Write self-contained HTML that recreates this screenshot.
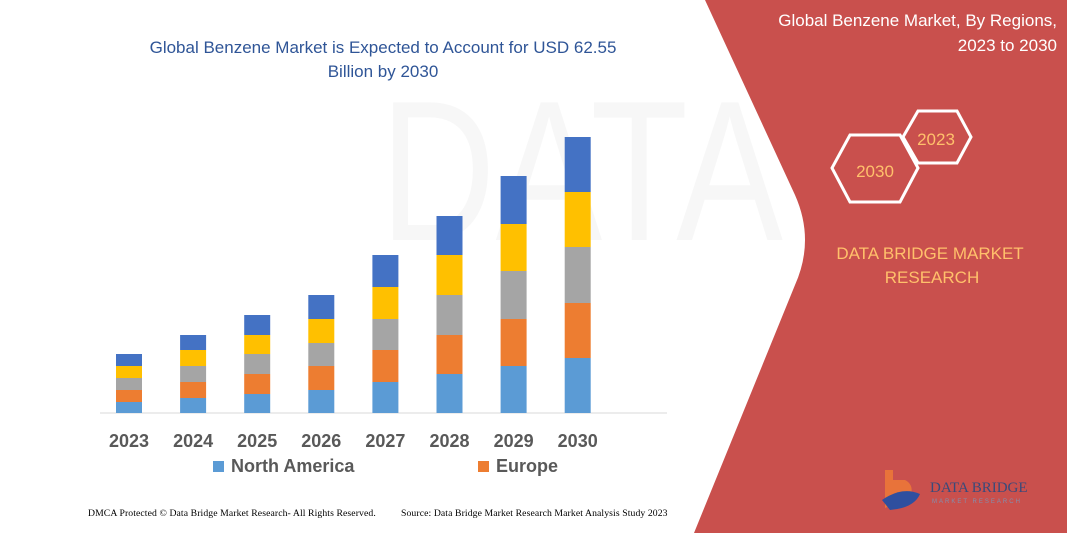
<!DOCTYPE html>
<html><head><style>
body{margin:0;width:1067px;height:533px;overflow:hidden;background:#fff;font-family:"Liberation Sans",sans-serif;position:relative}
.t{position:absolute;white-space:nowrap}
</style></head><body>
<svg width="1067" height="533" style="position:absolute;left:0;top:0">
<text x="380" y="240" font-size="200" fill="#f7f7f7" font-family="Liberation Sans" transform="scale(0.8,1) translate(95,0)">DATA BR</text>
<path d="M705,0 L795,195 Q815,240 795,285 L694,533 L1067,533 L1067,0 Z" fill="#C9504D"/>
<line x1="100" y1="413" x2="667" y2="413" stroke="#d9d9d9" stroke-width="1"/>
<g id="bars"></g>
<polygon points="850,135 900,135 918,168 900,202 850,202 832,168" fill="none" stroke="#fff" stroke-width="3"/>
<polygon points="918,111 957,111 971,137 957,163 918,163 903,137" fill="none" stroke="#fff" stroke-width="3"/>
<text x="875" y="177" font-size="17" fill="#FFC06B" text-anchor="middle">2030</text>
<text x="936" y="145" font-size="17" fill="#FFC06B" text-anchor="middle">2023</text>
<text x="930" y="259" font-size="17" fill="#FFC06B" text-anchor="middle">DATA BRIDGE MARKET</text>
<text x="932" y="283" font-size="17" fill="#FFC06B" text-anchor="middle">RESEARCH</text>
<text x="1057" y="26" font-size="17" fill="#fff" text-anchor="end">Global Benzene Market, By Regions,</text>
<text x="1057" y="51" font-size="17" fill="#fff" text-anchor="end">2023 to 2030</text>
<path d="M885,470 h8 v10 h12 q10,5 5,18 l-25,10 z" fill="#E8733A"/>
<path d="M882,500 q20,-14 38,-6 q-6,14 -30,16 z" fill="#2F4F9F"/>
<text x="930" y="492" font-size="15" fill="#3a4a7a" font-family="Liberation Serif">DATA BRIDGE</text>
<text x="932" y="503" font-size="6" fill="#8090b0" letter-spacing="2">MARKET RESEARCH</text>
<rect x="213" y="461" width="11" height="11" fill="#5B9BD5"/>
<rect x="478" y="461" width="11" height="11" fill="#ED7D31"/>
</svg>
<script>
const bs=[[354,366,378,390,402],[335,350,366,382,398],[315,335,354,374,394],[295,319,343,366,390],[255,287,319,350,382],[216,255,295,335,374],[176,224,271,319,366],[137,192,247,303,358]];
const cols=["#4472C4","#FFC000","#A5A5A5","#ED7D31","#5B9BD5"];
let s="";bs.forEach((b,i)=>{const x=116+i*64.1;const e=[...b,413];for(let k=0;k<5;k++)s+=`<rect x="${x}" y="${e[k]}" width="26" height="${e[k+1]-e[k]}" fill="${cols[k]}"/>`;
s+=`<text x="${x+13}" y="447" font-size="18" font-weight="bold" fill="#595959" text-anchor="middle" font-family="Liberation Sans">${2023+i}</text>`});
document.getElementById("bars").innerHTML=s;
</script>
<div class="t" style="left:0;width:766px;text-align:center;top:36px;font-size:17px;color:#2F5597;line-height:24px">Global Benzene Market is Expected to Account for USD 62.55<br>Billion by 2030</div>
<div class="t" style="left:231px;top:456px;font-size:18px;font-weight:bold;color:#595959">North America</div>
<div class="t" style="left:496px;top:456px;font-size:18px;font-weight:bold;color:#595959">Europe</div>
<div class="t" style="left:88px;top:508px;font-size:9.7px;font-family:'Liberation Serif',serif;color:#000;letter-spacing:0.1px">DMCA Protected © Data Bridge Market Research- All Rights Reserved.</div>
<div class="t" style="left:401px;top:508px;font-size:9.7px;font-family:'Liberation Serif',serif;color:#000;letter-spacing:0.1px">Source: Data Bridge Market Research Market Analysis Study 2023</div>
</body></html>
